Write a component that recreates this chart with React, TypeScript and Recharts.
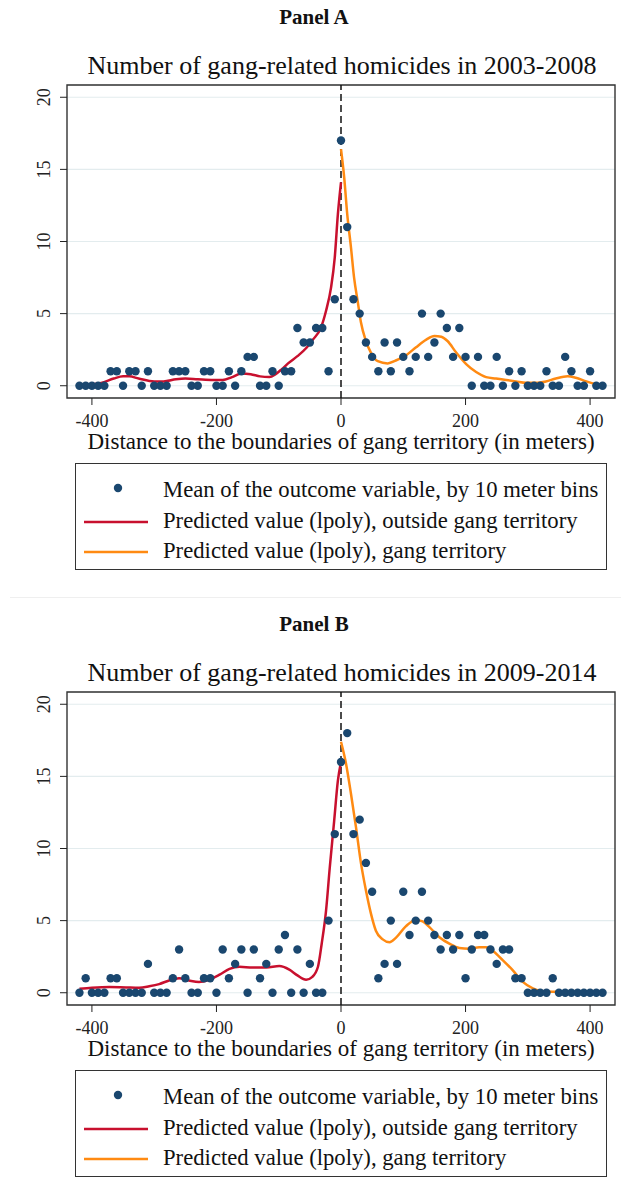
import React from "react";
import {
  ComposedChart,
  Scatter,
  Line,
  XAxis,
  YAxis,
  CartesianGrid,
  ReferenceLine,
  ReferenceArea,
} from "recharts";

// distance bins (10 m), outside territory < 0 <= inside
const distances = [
  -420, -410, -400, -390, -380, -370, -360, -350, -340, -330, -320, -310, -300, -290,
  -280, -270, -260, -250, -240, -230, -220, -210, -200, -190, -180, -170, -160, -150,
  -140, -130, -120, -110, -100, -90, -80, -70, -60, -50, -40, -30, -20, -10, 0, 10, 20,
  30, 40, 50, 60, 70, 80, 90, 100, 110, 120, 130, 140, 150, 160, 170, 180, 190, 200,
  210, 220, 230, 240, 250, 260, 270, 280, 290, 300, 310, 320, 330, 340, 350, 360, 370,
  380, 390, 400, 410, 420,
];

const homicides0308 = [
  0, 0, 0, 0, 0, 1, 1, 0, 1, 1, 0, 1, 0, 0, 0, 1, 1, 1, 0, 0, 1, 1, 0, 0, 1, 0, 1, 2,
  2, 0, 0, 1, 0, 1, 1, 4, 3, 3, 4, 4, 1, 6, 17, 11, 6, 5, 3, 2, 1, 3, 1, 3, 2, 1, 2, 5,
  2, 3, 5, 4, 2, 4, 2, 0, 2, 0, 0, 2, 0, 1, 0, 1, 0, 0, 0, 1, 0, 0, 2, 1, 0, 0, 1, 0, 0,
];

const homicides0914 = [
  0, 1, 0, 0, 0, 1, 1, 0, 0, 0, 0, 2, 0, 0, 0, 1, 3, 1, 0, 0, 1, 1, 0, 3, 1, 2, 3, 0,
  3, 1, 2, 0, 3, 4, 0, 3, 0, 2, 0, 0, 5, 11, 16, 18, 11, 12, 9, 7, 1, 2, 5, 2, 7, 4, 5,
  7, 5, 4, 3, 4, 3, 4, 1, 3, 4, 4, 3, 2, 3, 3, 1, 1, 0, 0, 0, 0, 1, 0, 0, 0, 0, 0, 0, 0, 0,
];

// lpoly fits, panel A
const fitOutX_A = [
  -420, -400, -385, -365, -350, -340, -325, -300, -285, -265, -250, -230, -205, -190,
  -175, -160, -145, -130, -115, -105, -95, -85, -70, -55, -45, -32, -24, -16, -10, -5, 0,
];
const fitOutY_A = [
  0.05, 0.1, 0.2, 0.5, 0.65, 0.65, 0.5, 0.3, 0.3, 0.45, 0.5, 0.45, 0.4, 0.4, 0.6, 0.85,
  0.8, 0.65, 0.6, 0.8, 1.15, 1.55, 2.05, 2.65, 3.2, 4.05, 5.2, 6.8, 8.9, 11.9, 14.1,
];
const fitInX_A = [
  0, 5, 10, 16, 21, 27, 32, 40, 48, 59, 75, 88, 104, 120, 137, 150, 161, 171, 185, 201,
  217, 233, 249, 265, 281, 297, 313, 329, 345, 364, 377, 394, 410, 420,
];
const fitInY_A = [
  16.4, 14.5, 11.9, 9.6, 7.5, 5.8, 4.4, 3.1, 2.3, 1.7, 1.55, 1.75, 2.1, 2.65, 3.2, 3.45,
  3.4, 3.1, 2.3, 1.5, 0.95, 0.6, 0.5, 0.4, 0.3, 0.2, 0.2, 0.3, 0.5, 0.65, 0.55, 0.3,
  0.1, 0.0,
];

// lpoly fits, panel B
const fitOutX_B = [
  -420, -400, -372, -345, -324, -308, -292, -276, -260, -244, -228, -212, -195, -179,
  -163, -142, -120, -99, -83, -70, -56, -46, -37, -31, -24, -18, -11, -5, 0,
];
const fitOutY_B = [
  0.28, 0.35, 0.4, 0.37, 0.35, 0.45, 0.6, 0.85, 1.0, 0.85, 0.75, 0.9, 1.25, 1.65, 1.8,
  1.75, 1.75, 1.85, 1.6, 1.2, 0.9, 1.1, 1.8, 3.4, 5.7, 8.7, 11.9, 14.7, 16.0,
];
const fitInX_B = [
  0, 8, 16, 24, 32, 40, 48, 56, 67, 78, 88, 104, 120, 131, 142, 158, 174, 190, 206, 222,
  233, 244, 260, 276, 292, 308, 324, 345, 367, 388, 420,
];
const fitInY_B = [
  17.4, 15.9, 13.8, 11.5, 9.0, 7.1, 5.5, 4.3, 3.7, 3.5, 3.8, 4.6, 5.05, 4.95, 4.55, 3.85,
  3.4, 3.1, 3.05, 3.15, 3.15, 2.9, 2.25, 1.55, 0.75, 0.3, 0.1, 0.07, 0.05, 0.03, 0.0,
];

const xTicks = [-400, -200, 0, 200, 400];
const yTicks = [0, 5, 10, 15, 20];

const legendLabels = [
  "Mean of the outcome variable, by 10 meter bins",
  "Predicted value (lpoly), outside gang territory",
  "Predicted value (lpoly), gang territory",
];

const FONT = '"Liberation Serif", "Times New Roman", serif';
const NAVY = "#1a476f";
const RED = "#c8102e";
const ORANGE = "#ff8a12";
const INK = "#222";

const pairs = (xs: number[], ys: number[]) => xs.map((x, i) => ({ x, y: ys[i] }));

function YTick({ y, payload }: any) {
  return (
    <text
      x={50}
      y={y}
      transform={`rotate(-90, 50, ${y})`}
      textAnchor="middle"
      fontSize={18}
      fill={INK}
      fontFamily={FONT}
    >
      {payload.value}
    </text>
  );
}

function Dot({ cx, cy }: any) {
  return <circle cx={cx} cy={cy} r={4.2} fill={NAVY} />;
}

type PanelProps = {
  top: number;
  name: string;
  title: string;
  counts: number[];
  outX: number[];
  outY: number[];
  inX: number[];
  inY: number[];
};

function Panel({ top, name, title, counts, outX, outY, inX, inY }: PanelProps) {
  const dots = pairs(distances, counts);
  return (
    <div style={{ position: "absolute", left: 0, top, width: 621, height: 590 }}>
      <div
        style={{
          position: "absolute", top: 6, left: 0, width: 628, textAlign: "center",
          fontFamily: FONT, fontWeight: "bold", fontSize: 21, lineHeight: "22px", color: "#111",
        }}
      >
        {name}
      </div>
      <div
        style={{
          position: "absolute", top: 53, left: 0, width: 684, textAlign: "center",
          fontFamily: FONT, fontSize: 26, lineHeight: "26px", color: "#111",
        }}
      >
        {title}
      </div>
      <div style={{ position: "absolute", left: 0, top: 75 }}>
        <ComposedChart
          width={621}
          height={360}
          margin={{ top: 10, right: 6, bottom: 0, left: 40 }}
        >
          <CartesianGrid vertical={false} stroke="#e3ecee" strokeWidth={1.2} />
          <XAxis
            type="number"
            dataKey="x"
            domain={[-440, 440]}
            ticks={xTicks}
            height={37}
            axisLine={false}
            tickSize={7}
            tickMargin={9}
            tickLine={{ stroke: INK }}
            tick={{ fontSize: 18, fill: INK, fontFamily: FONT }}
            allowDataOverflow
          />
          <YAxis
            type="number"
            dataKey="y"
            domain={[-0.85, 20.85]}
            ticks={yTicks}
            width={27}
            axisLine={false}
            tickSize={7}
            tickLine={{ stroke: INK }}
            tick={<YTick />}
            allowDataOverflow
          />
          <ReferenceLine x={0} stroke="#111" strokeWidth={1.5} strokeDasharray="7 4" />
          <Scatter data={dots} shape={<Dot />} isAnimationActive={false} />
          <Line
            data={pairs(outX, outY)}
            dataKey="y"
            type="monotone"
            stroke={RED}
            strokeWidth={2.5}
            dot={false}
            activeDot={false}
            isAnimationActive={false}
          />
          <Line
            data={pairs(inX, inY)}
            dataKey="y"
            type="monotone"
            stroke={ORANGE}
            strokeWidth={2.5}
            dot={false}
            activeDot={false}
            isAnimationActive={false}
          />
          <ReferenceArea
            x1={-440}
            x2={440}
            y1={-0.85}
            y2={20.85}
            fill="none"
            stroke="#333"
            strokeWidth={1.4}
            ifOverflow="visible"
          />
        </ComposedChart>
      </div>
      <div
        style={{
          position: "absolute", top: 430, left: 0, width: 682, textAlign: "center",
          fontFamily: FONT, fontSize: 23, lineHeight: "23px", color: "#111",
        }}
      >
        Distance to the boundaries of gang territory (in meters)
      </div>
      <div
        style={{
          position: "absolute", top: 463, left: 75, width: 530, height: 105,
          border: "1.3px solid #333", background: "#fff",
        }}
      >
        <svg width={80} height={105} style={{ position: "absolute", left: 0, top: 0 }}>
          <circle cx={42} cy={24} r={4.2} fill={NAVY} />
          <line x1={8} x2={72} y1={58} y2={58} stroke={RED} strokeWidth={2.5} />
          <line x1={8} x2={72} y1={88} y2={88} stroke={ORANGE} strokeWidth={2.5} />
        </svg>
        {legendLabels.map((t, i) => (
          <div
            key={t}
            style={{
              position: "absolute", left: 87, top: 14 + i * 30.5, whiteSpace: "nowrap",
              fontFamily: FONT, fontSize: 22.7, lineHeight: "23px", color: "#111",
            }}
          >
            {t}
          </div>
        ))}
      </div>
    </div>
  );
}

export default function App() {
  return (
    <div
      style={{
        position: "absolute", left: 0, top: 0, width: 621, height: 1197,
        background: "#fff", overflow: "hidden",
      }}
    >
      <Panel
        top={0}
        name="Panel A"
        title="Number of gang-related homicides in 2003-2008"
        counts={homicides0308}
        outX={fitOutX_A}
        outY={fitOutY_A}
        inX={fitInX_A}
        inY={fitInY_A}
      />
      <div
        style={{
          position: "absolute", left: 10, top: 597, width: 611, height: 1, background: "#efefef",
        }}
      />
      <Panel
        top={607}
        name="Panel B"
        title="Number of gang-related homicides in 2009-2014"
        counts={homicides0914}
        outX={fitOutX_B}
        outY={fitOutY_B}
        inX={fitInX_B}
        inY={fitInY_B}
      />
    </div>
  );
}
